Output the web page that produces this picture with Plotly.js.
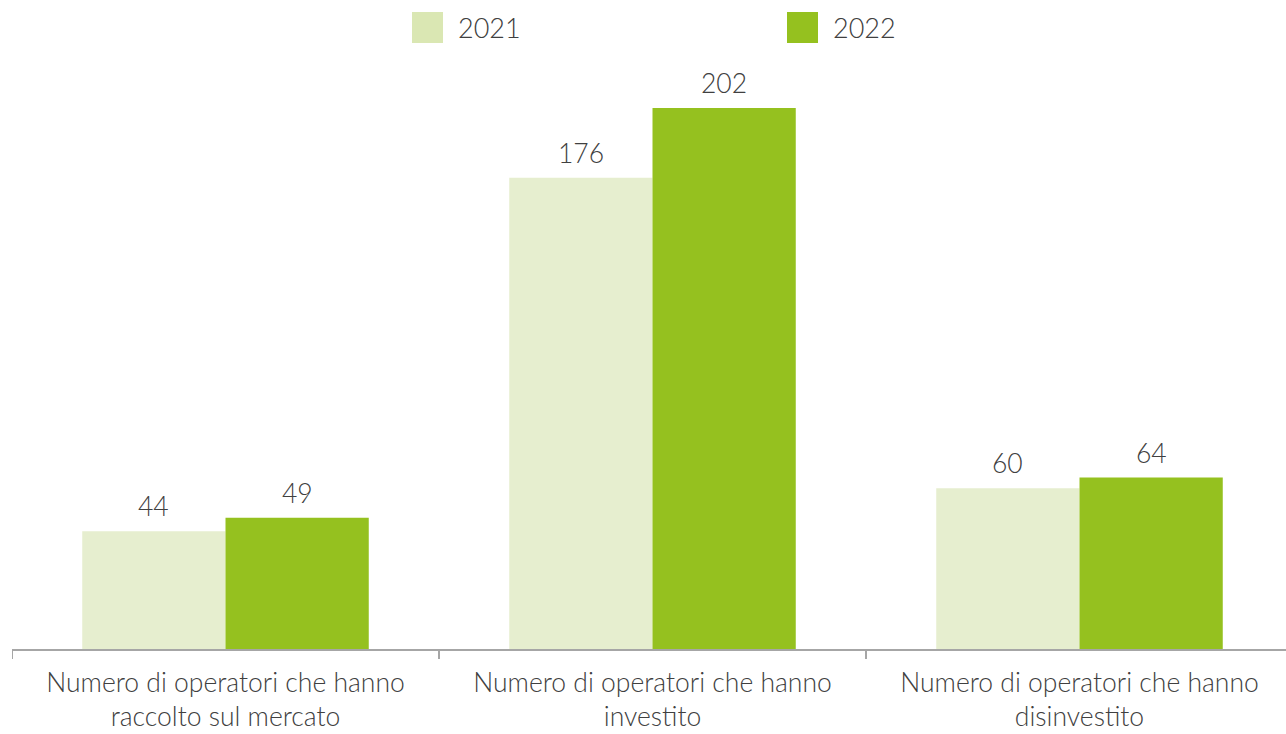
<!DOCTYPE html>
<html>
<head>
<meta charset="utf-8">
<script src="https://cdn.plot.ly/plotly-3.0.1.min.js"></script>
<style>
html,body{margin:0;padding:0;overflow:hidden;background:#fff;}
#chart{width:1286px;height:734px;}
</style>
</head>
<body>
<div id="chart"></div>
<script>
const categories = [
  "Numero di operatori che hanno<br>raccolto sul mercato",
  "Numero di operatori che hanno<br>investito",
  "Numero di operatori che hanno<br>disinvestito"
];
const seriesNames = ["2021", "2022"];
const values2021 = [44, 176, 60];
const values2022 = [49, 202, 64];
const colors = ["#E6EECF", "#95C11F"];
const legendColors = ["#DAE7B3", "#95C11F"];

const W = 1286, H = 734;
const M = {l: 12, r: 0, t: 60, b: 85};
const plotW = W - M.l - M.r, plotH = H - M.t - M.b;
const catPx = 427;
const xMax = -0.5 + plotW / catPx;
const bargap = 0.329;
const halfBar = (1 - bargap) / 4;

const font = {family: "'Lato Light', Lato, 'Open Sans', sans-serif", size: 26.5, color: "#404040", weight: 300};

const traces = [values2021, values2022].map((vals, i) => ({
  type: "bar",
  name: seriesNames[i],
  x: categories.map((c, j) => j),
  y: vals,
  marker: {color: colors[i], line: {width: 0}},
  showlegend: false,
  hoverinfo: "skip"
}));

const annotations = [];
[values2021, values2022].forEach((vals, i) => {
  vals.forEach((v, j) => {
    annotations.push({
      xref: "x", yref: "y",
      x: j + (i === 0 ? -halfBar : halfBar), y: v,
      text: String(v), showarrow: false,
      yanchor: "bottom", yshift: 7,
      font: font
    });
  });
});

// manual legend
const px2x = px => (px - M.l) / plotW;
const px2y = py => (M.t + plotH - py) / plotH;
const shapes = [];
const legendPos = [412, 787];
seriesNames.forEach((n, i) => {
  const x0 = legendPos[i];
  shapes.push({
    type: "rect", xref: "paper", yref: "paper",
    x0: px2x(x0), x1: px2x(x0 + 31), y0: px2y(43), y1: px2y(12),
    fillcolor: legendColors[i], line: {width: 0}
  });
  annotations.push({
    xref: "paper", yref: "paper",
    x: px2x(x0 + 44), y: px2y(28),
    xanchor: "left", yanchor: "middle",
    text: n, showarrow: false,
    font: Object.assign({}, font, {size: 27})
  });
});

const layout = {
  width: W, height: H,
  margin: M,
  paper_bgcolor: "#fff", plot_bgcolor: "#fff",
  barmode: "group",
  bargap: bargap,
  bargroupgap: 0,
  font: font,
  xaxis: {
    range: [-0.5, xMax],
    tickmode: "array",
    tickvals: categories.map((c, j) => j),
    ticktext: categories,
    showline: true, linecolor: "#A6A6A6", linewidth: 2,
    ticks: "", showgrid: false, zeroline: false,
    tickfont: font,
    ticklabelstandoff: 9,
    fixedrange: true
  },
  yaxis: {
    range: [0, plotH / (541 / 202)],
    visible: false, showgrid: false, zeroline: false,
    fixedrange: true
  },
  shapes: shapes.concat([0.5, 1.5, -0.5].map(t => ({
    type: "line", xref: "x", yref: "paper",
    x0: t, x1: t, y0: 0, y1: -10 / plotH,
    line: {color: "#A6A6A6", width: 2}
  }))),
  annotations: annotations,
  showlegend: false
};

Plotly.newPlot("chart", traces, layout, {displayModeBar: false, staticPlot: true});
</script>
</body>
</html>
